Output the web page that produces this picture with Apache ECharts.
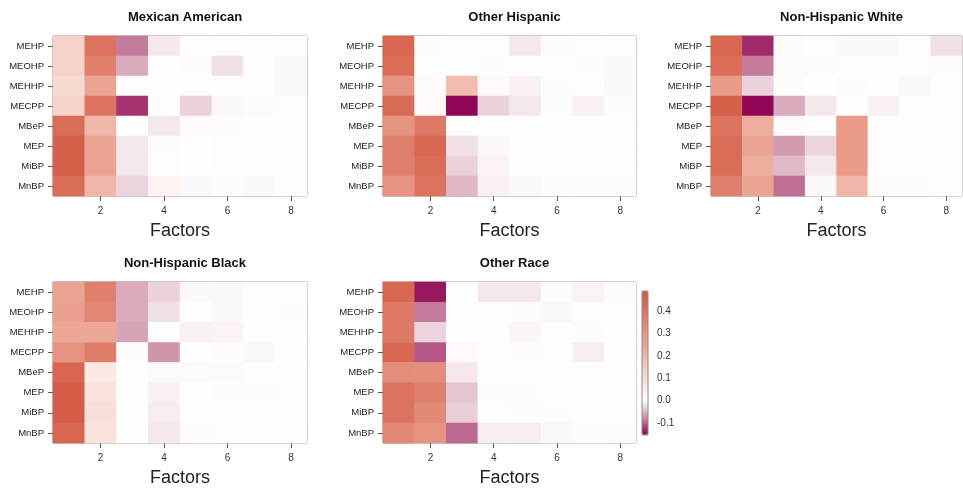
<!DOCTYPE html>
<html>
<head>
<meta charset="utf-8">
<script src="https://cdn.jsdelivr.net/npm/echarts@6/dist/echarts.min.js"></script>
<style>html,body{margin:0;padding:0;background:#fff}#c{width:963px;height:493px}</style>
</head>
<body>
<div id="c"></div>
<script>
const factors = ['1','2','3','4','5','6','7','8'];
const metabolites = ['MEHP','MEOHP','MEHHP','MECPP','MBeP','MEP','MiBP','MnBP'];
const panelTitles = ['Mexican American','Other Hispanic','Non-Hispanic White','Non-Hispanic Black','Other Race'];
const colorbarTicks = [-0.1, 0.0, 0.1, 0.2, 0.3, 0.4];

const mexicanAmerican = [
  [0.12, 0.40, -0.085, -0.015, 0, 0, 0, 0],
  [0.12, 0.36, -0.055, 0, 0.01, -0.02, 0, -0.005],
  [0.10, 0.25, 0, 0.005, 0.005, 0, 0, -0.005],
  [0.12, 0.40, -0.125, 0, -0.03, -0.005, -0.003, 0],
  [0.42, 0.20, 0, -0.015, -0.003, -0.002, 0, 0],
  [0.46, 0.25, -0.015, 0.01, 0.002, 0, 0, 0],
  [0.46, 0.25, -0.015, 0.005, 0.002, 0, 0, 0],
  [0.42, 0.20, -0.028, 0.03, -0.005, -0.002, -0.005, 0]
];
const otherHispanic = [
  [0.44, 0.01, 0.002, 0, -0.015, -0.003, 0, 0],
  [0.42, 0.005, 0.003, -0.002, 0, 0, -0.002, -0.005],
  [0.30, -0.003, 0.18, 0.02, -0.01, -0.002, 0, -0.005],
  [0.43, 0.02, -0.15, -0.03, -0.015, -0.002, -0.01, -0.002],
  [0.30, 0.38, 0.005, 0, 0, 0, 0, 0],
  [0.36, 0.44, -0.02, -0.005, 0, 0, 0, 0],
  [0.36, 0.42, -0.03, -0.008, 0, 0, 0, 0],
  [0.30, 0.40, -0.048, -0.01, -0.005, -0.002, -0.002, -0.002]
];
const nonHispanicWhite = [
  [0.44, -0.13, 0.01, 0.002, -0.005, -0.005, 0, -0.02],
  [0.42, -0.085, 0.01, 0.015, 0, 0, 0, -0.002],
  [0.28, -0.03, 0.01, 0.003, -0.002, 0, -0.005, 0],
  [0.46, -0.15, -0.055, -0.015, 0.004, -0.01, 0, 0],
  [0.40, 0.22, -0.003, 0, 0.28, 0, 0, 0],
  [0.42, 0.25, -0.065, -0.028, 0.28, 0, 0, 0],
  [0.42, 0.22, -0.045, -0.015, 0.28, 0, 0, 0],
  [0.36, 0.25, -0.092, -0.005, 0.20, -0.002, -0.002, 0]
];
const nonHispanicBlack = [
  [0.25, 0.36, -0.055, -0.03, -0.005, -0.005, 0, 0],
  [0.26, 0.34, -0.055, -0.02, 0, -0.005, 0, -0.002],
  [0.24, 0.24, -0.06, 0, -0.01, -0.008, 0, 0],
  [0.30, 0.37, -0.003, -0.07, 0, -0.002, -0.005, 0],
  [0.44, 0.06, 0.006, -0.004, -0.004, -0.004, 0, 0],
  [0.47, 0.08, 0.004, -0.01, 0, -0.002, -0.003, 0],
  [0.47, 0.09, 0.003, -0.012, 0, 0, 0, 0],
  [0.44, 0.08, 0, -0.015, -0.003, 0, 0, 0.004]
];
const otherRace = [
  [0.44, -0.14, 0, -0.015, -0.015, -0.002, -0.008, -0.002],
  [0.38, -0.085, 0, 0, -0.002, -0.005, 0, 0],
  [0.38, -0.028, 0.002, 0, -0.006, 0, -0.002, 0],
  [0.44, -0.105, 0.02, 0, -0.003, 0, -0.012, 0],
  [0.32, 0.32, -0.015, 0, 0, 0, 0, 0],
  [0.40, 0.36, -0.038, -0.003, -0.002, 0, 0, 0],
  [0.40, 0.33, -0.032, 0, -0.002, -0.002, 0, 0],
  [0.34, 0.30, -0.095, -0.012, -0.012, -0.005, -0.003, -0.002]
];
const panels = [mexicanAmerican, otherHispanic, nonHispanicWhite, nonHispanicBlack, otherRace];

const vMin = -0.153, vMax = 0.489;
const negStops = [[255, 255, 255], [203, 138, 165], [142, 1, 82]];
const posStops = [[255, 255, 255], [236, 166, 148], [211, 86, 64]];
function lerp(a, b, t) { return a.map((x, i) => x + (b[i] - x) * t); }
function ramp(st, t) {
  t = Math.max(0, Math.min(1, t));
  return t < 0.5 ? lerp(st[0], st[1], t * 2) : lerp(st[1], st[2], (t - 0.5) * 2);
}
function colorAt(v) {
  const c = v < 0 ? ramp(negStops, v / vMin) : ramp(posStops, v / vMax);
  return 'rgb(' + c.map(Math.round).join(',') + ')';
}
const stops = [];
const N = 129;
for (let i = 0; i < N; i++) stops.push(colorAt(vMin + (vMax - vMin) * i / (N - 1)));

const FONT = '"Liberation Sans", Arial, Helvetica, sans-serif';
const gridPos = [
  {left: 53, top: 36, width: 254, height: 160},
  {left: 383, top: 36, width: 253, height: 160},
  {left: 711, top: 36, width: 251, height: 160},
  {left: 53, top: 282, width: 254, height: 161},
  {left: 383, top: 282, width: 253, height: 161}
];

const grids = [], xAxes = [], yAxes = [], series = [], titles = [];
gridPos.forEach((g, i) => {
  grids.push(Object.assign({show: true, borderColor: '#8a8a8a', borderWidth: 1, backgroundColor: 'transparent'}, g));
  titles.push({
    text: panelTitles[i], left: g.left + g.width / 2, top: g.top - 30, textAlign: 'center',
    textStyle: {fontFamily: FONT, fontSize: 13, fontWeight: 'bold', color: '#111'}
  });
  xAxes.push({
    type: 'category', gridIndex: i, data: factors, name: 'Factors', nameLocation: 'middle', nameGap: 26,
    nameTextStyle: {fontFamily: FONT, fontSize: 18, color: '#222'},
    axisLine: {show: false},
    axisTick: {show: true, length: 5, alignWithLabel: true, interval: (idx) => idx % 2 === 1, lineStyle: {color: '#555'}},
    axisLabel: {interval: (idx) => idx % 2 === 1, margin: 10, fontFamily: FONT, fontSize: 10, color: '#333'},
    splitLine: {show: false}
  });
  yAxes.push({
    type: 'category', gridIndex: i, data: metabolites, inverse: true,
    axisLine: {show: false},
    axisTick: {show: true, length: 5, alignWithLabel: true, lineStyle: {color: '#555'}},
    axisLabel: {margin: 9, fontFamily: FONT, fontSize: 9.5, color: '#222'},
    splitLine: {show: false}
  });
  const data = [];
  panels[i].forEach((row, r) => row.forEach((v, c) => data.push([c, r, v])));
  series.push({type: 'heatmap', xAxisIndex: i, yAxisIndex: i, data: data, silent: true, itemStyle: {borderWidth: 0}});
});

// colorbar axis
grids.push({left: 642, top: 291, width: 6, height: 144, show: true, borderColor: '#8a8a8a', borderWidth: 1, backgroundColor: 'transparent', z: 10});
xAxes.push({type: 'value', gridIndex: 5, show: false, min: 0, max: 1});
yAxes.push({
  type: 'value', gridIndex: 5, position: 'right', min: vMin, max: vMax,
  axisLine: {show: false}, splitLine: {show: false},
  axisTick: {show: true, length: 4, customValues: colorbarTicks, lineStyle: {color: '#555'}},
  axisLabel: {show: true, margin: 9, customValues: colorbarTicks, formatter: (v) => v.toFixed(1), fontFamily: FONT, fontSize: 10, color: '#333'}
});
series.push({type: 'scatter', xAxisIndex: 5, yAxisIndex: 5, data: [], silent: true});

const chart = echarts.init(document.getElementById('c'), null, {renderer: 'canvas'});
chart.setOption({
  animation: false,
  backgroundColor: '#fff',
  title: titles,
  grid: grids,
  xAxis: xAxes,
  yAxis: yAxes,
  visualMap: {
    type: 'continuous', seriesIndex: [0, 1, 2, 3, 4], min: vMin, max: vMax,
    calculable: false, show: true, orient: 'vertical', left: 642, top: 291,
    itemWidth: 6, itemHeight: 144, padding: 0, text: null, hoverLink: false,
    inRange: {color: stops}
  },
  series: series
});
</script>
</body>
</html>
